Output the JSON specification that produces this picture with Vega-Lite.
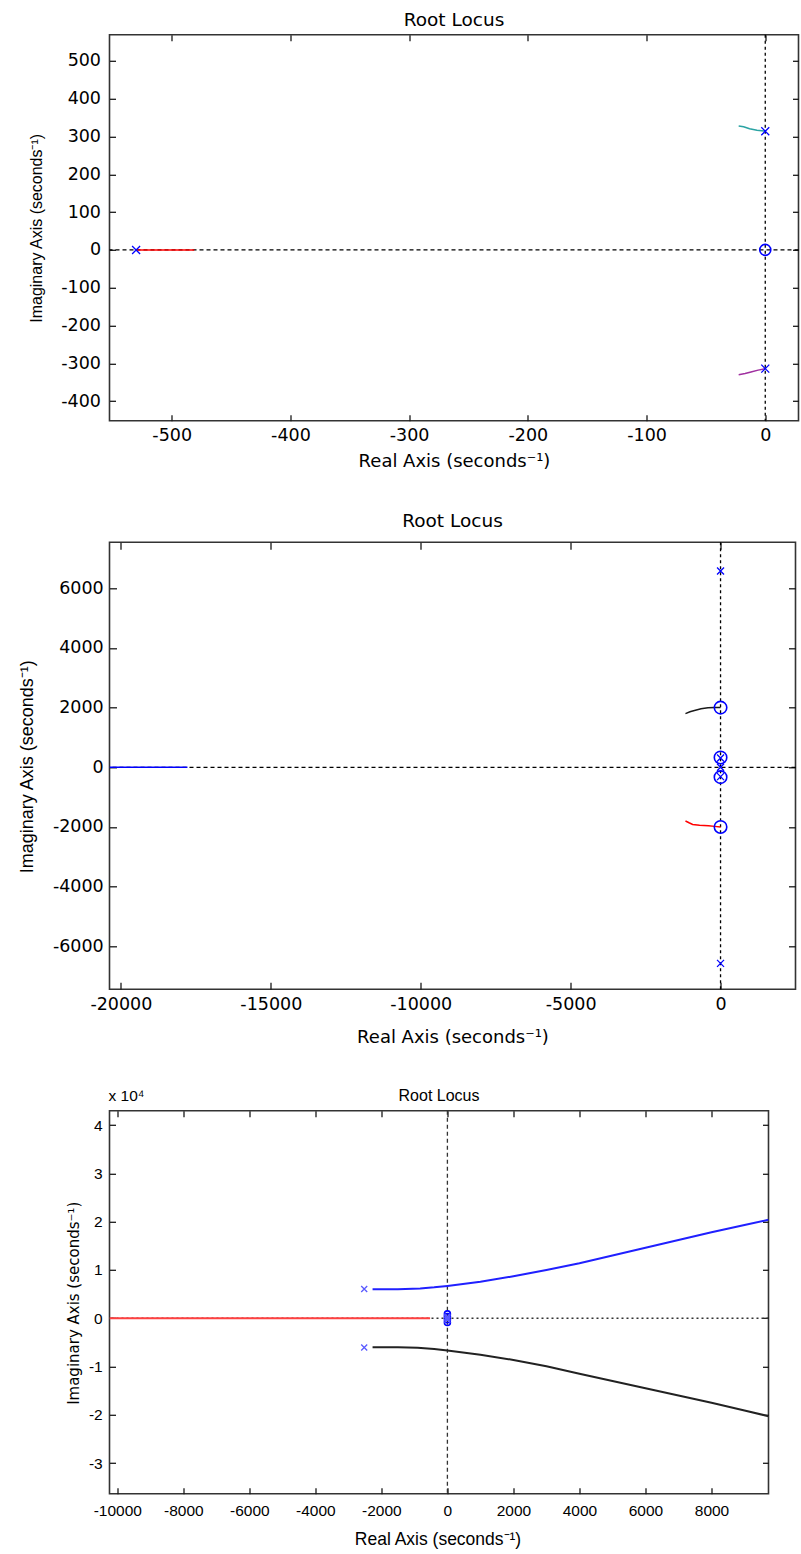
{
  "$schema": "https://vega.github.io/schema/vega-lite/v6.json",
  "background": "white",
  "padding": {"left": 17.5, "top": 9.8, "right": 3, "bottom": 3},
  "autosize": {"type": "pad"},
  "bounds": "flush",
  "spacing": 121.5,
  "resolve": {
    "scale": {"x": "independent", "y": "independent", "color": "independent"},
    "axis": {"x": "independent", "y": "independent"}
  },
  "datasets": {
    "origin": [{"v": 0}],
    "p1_lines": [
      {"branch": "a", "i": 0, "re": -530, "im": 0},
      {"branch": "a", "i": 1, "re": -481, "im": 0},
      {"branch": "b", "i": 0, "re": -22.4, "im": 328},
      {"branch": "b", "i": 1, "re": -18.2, "im": 326},
      {"branch": "b", "i": 2, "re": -13.2, "im": 320.5},
      {"branch": "b", "i": 3, "re": -7, "im": 316.5},
      {"branch": "b", "i": 4, "re": 0, "im": 314},
      {"branch": "c", "i": 0, "re": -22.4, "im": -330},
      {"branch": "c", "i": 1, "re": -17, "im": -327},
      {"branch": "c", "i": 2, "re": -12, "im": -323},
      {"branch": "c", "i": 3, "re": -6, "im": -318},
      {"branch": "c", "i": 4, "re": 0, "im": -314}
    ],
    "p1_poles": [
      {"re": -530, "im": 0},
      {"re": 0, "im": 314},
      {"re": 0, "im": -314}
    ],
    "p1_zeros": [{"re": 0, "im": 0}],
    "p2_lines": [
      {"branch": "a", "i": 0, "re": -20380, "im": 0},
      {"branch": "a", "i": 1, "re": -17780, "im": 0},
      {"branch": "b", "i": 0, "re": -1170, "im": 1800},
      {"branch": "b", "i": 1, "re": -1020, "im": 1860},
      {"branch": "b", "i": 2, "re": -870, "im": 1905},
      {"branch": "b", "i": 3, "re": -650, "im": 1960},
      {"branch": "b", "i": 4, "re": -420, "im": 1992},
      {"branch": "b", "i": 5, "re": -200, "im": 2002},
      {"branch": "b", "i": 6, "re": 0, "im": 2000},
      {"branch": "c", "i": 0, "re": -1170, "im": -1800},
      {"branch": "c", "i": 1, "re": -1050, "im": -1860},
      {"branch": "c", "i": 2, "re": -930, "im": -1915},
      {"branch": "c", "i": 3, "re": -700, "im": -1945},
      {"branch": "c", "i": 4, "re": -400, "im": -1962},
      {"branch": "c", "i": 5, "re": -200, "im": -1980},
      {"branch": "c", "i": 6, "re": 0, "im": -2000}
    ],
    "p2_poles": [
      {"re": 0, "im": 6580},
      {"re": 0, "im": -6570},
      {"re": 0, "im": 314},
      {"re": 0, "im": -314},
      {"re": 0, "im": 0}
    ],
    "p2_zeros": [
      {"re": 0, "im": 2000},
      {"re": 0, "im": -2000},
      {"re": 0, "im": 330},
      {"re": 0, "im": -330}
    ],
    "p3_lines": [
      {"branch": "a", "i": 0, "re": -10236, "im": 0},
      {"branch": "a", "i": 1, "re": -524, "im": 0},
      {"branch": "b", "i": 0, "re": -2267, "im": 6000},
      {"branch": "b", "i": 1, "re": -1500, "im": 6000},
      {"branch": "b", "i": 2, "re": -824, "im": 6150},
      {"branch": "b", "i": 3, "re": -400, "im": 6400},
      {"branch": "b", "i": 4, "re": 0, "im": 6700},
      {"branch": "b", "i": 5, "re": 1000, "im": 7550},
      {"branch": "b", "i": 6, "re": 2000, "im": 8700},
      {"branch": "b", "i": 7, "re": 3000, "im": 10000},
      {"branch": "b", "i": 8, "re": 4000, "im": 11400},
      {"branch": "b", "i": 9, "re": 5000, "im": 13000},
      {"branch": "b", "i": 10, "re": 6000, "im": 14600},
      {"branch": "b", "i": 11, "re": 7000, "im": 16200},
      {"branch": "b", "i": 12, "re": 8000, "im": 17800},
      {"branch": "b", "i": 13, "re": 9000, "im": 19300},
      {"branch": "b", "i": 14, "re": 9727, "im": 20400},
      {"branch": "c", "i": 0, "re": -2267, "im": -6000},
      {"branch": "c", "i": 1, "re": -1500, "im": -6000},
      {"branch": "c", "i": 2, "re": -900, "im": -6100},
      {"branch": "c", "i": 3, "re": -400, "im": -6400},
      {"branch": "c", "i": 4, "re": 0, "im": -6700},
      {"branch": "c", "i": 5, "re": 1000, "im": -7550},
      {"branch": "c", "i": 6, "re": 2000, "im": -8650},
      {"branch": "c", "i": 7, "re": 3000, "im": -9950},
      {"branch": "c", "i": 8, "re": 4000, "im": -11500},
      {"branch": "c", "i": 9, "re": 5000, "im": -13000},
      {"branch": "c", "i": 10, "re": 6000, "im": -14500},
      {"branch": "c", "i": 11, "re": 7000, "im": -16000},
      {"branch": "c", "i": 12, "re": 8000, "im": -17500},
      {"branch": "c", "i": 13, "re": 9000, "im": -19100},
      {"branch": "c", "i": 14, "re": 9727, "im": -20300}
    ],
    "p3_poles": [
      {"re": -2520, "im": 6050},
      {"re": -2520, "im": -6050},
      {"re": 0, "im": 314},
      {"re": 0, "im": -314},
      {"re": 0, "im": 0}
    ],
    "p3_zeros": [
      {"re": 0, "im": 330},
      {"re": 0, "im": -330},
      {"re": 0, "im": 900},
      {"re": 0, "im": -900}
    ],
    "p3_note": [{"label": "x 10⁴", "re": -10236, "im": 42980}]
  },
  "vconcat": [
    {
      "title": {"text": "Root Locus", "frame": "group", "baseline": "middle", "offset": -4, "font": "DejaVu Sans", "fontSize": 18.5, "fontWeight": "normal", "color": "#000"},
      "width": 689,
      "height": 386,
      "view": {"stroke": "#333", "strokeWidth": 1.6},
      "resolve": {"axis": {"x": "independent", "y": "independent"}},
      "layer": [
        {
          "data": {"name": "origin"},
          "mark": {"type": "rule", "strokeDash": [3, 3], "color": "#000", "strokeWidth": 1.3},
          "encoding": {
            "x": {"field": "v", "type": "quantitative", "scale": {"domain": [-552.4, 28], "nice": false, "zero": false},
              "axis": {"orient": "bottom", "values": [-500, -400, -300, -200, -100, 0], "labelExpr": "'' + datum.value", "tickSize": -6, "labelPadding": 21, "labelBaseline": "middle", "labelFont": "DejaVu Sans", "labelFontSize": 17.5, "title": "Real Axis (seconds⁻¹)", "titleFont": "DejaVu Sans", "titleFontSize": 18, "titleX": 344.5, "titleY": 41, "titleBaseline": "middle", "titleAlign": "center"}}
          }
        },
        {
          "data": {"name": "origin"},
          "mark": {"type": "rule", "strokeDash": [4, 3], "color": "#000", "strokeWidth": 1.3},
          "encoding": {
            "y": {"field": "v", "type": "quantitative", "scale": {"domain": [-452, 569], "nice": false, "zero": false},
              "axis": {"orient": "left", "values": [-400, -300, -200, -100, 0, 100, 200, 300, 400, 500], "labelExpr": "'' + datum.value", "tickSize": -6, "labelPadding": 15, "labelBaseline": "middle", "labelFont": "DejaVu Sans", "labelFontSize": 17.5, "title": "Imaginary Axis (seconds⁻¹)", "titleFont": "Liberation Sans", "titleFontSize": 16, "titleX": -73, "titleY": 193, "titleAngle": -90, "titleBaseline": "middle", "titleAlign": "center"}}
          }
        },
        {
          "data": {"name": "p1_lines"},
          "mark": {"type": "line", "strokeWidth": 1.5, "clip": true},
          "encoding": {
            "x": {"field": "re", "type": "quantitative", "scale": {"domain": [-552.4, 28], "nice": false, "zero": false},
              "axis": {"orient": "top", "values": [-500, -400, -300, -200, -100, 0], "tickSize": -6, "labels": false, "title": null}},
            "y": {"field": "im", "type": "quantitative", "scale": {"domain": [-452, 569], "nice": false, "zero": false},
              "axis": {"orient": "right", "values": [-400, -300, -200, -100, 0, 100, 200, 300, 400, 500], "tickSize": -6, "labels": false, "title": null}},
            "color": {"field": "branch", "type": "nominal", "scale": {"domain": ["a", "b", "c"], "range": ["#ff0000", "#2aa3a3", "#a030a0"]}, "legend": null},
            "order": {"field": "i", "type": "quantitative"}
          }
        },
        {
          "data": {"name": "p1_zeros"},
          "mark": {"type": "point", "shape": "circle", "filled": false, "color": "#0000ff", "size": 121, "strokeWidth": 1.6, "opacity": 1},
          "encoding": {
            "x": {"field": "re", "type": "quantitative", "scale": {"domain": [-552.4, 28], "nice": false, "zero": false}, "axis": null},
            "y": {"field": "im", "type": "quantitative", "scale": {"domain": [-452, 569], "nice": false, "zero": false}, "axis": null}
          }
        },
        {
          "data": {"name": "p1_poles"},
          "mark": {"type": "point", "shape": "M-1,-1L1,1M-1,1L1,-1", "filled": false, "color": "#0000ff", "size": 64, "strokeWidth": 1.3, "opacity": 1},
          "encoding": {
            "x": {"field": "re", "type": "quantitative", "scale": {"domain": [-552.4, 28], "nice": false, "zero": false}, "axis": null},
            "y": {"field": "im", "type": "quantitative", "scale": {"domain": [-452, 569], "nice": false, "zero": false}, "axis": null}
          }
        }
      ]
    },
    {
      "title": {"text": "Root Locus", "frame": "group", "baseline": "middle", "offset": 2.2, "font": "DejaVu Sans", "fontSize": 18.5, "fontWeight": "normal", "color": "#000"},
      "width": 686,
      "height": 447,
      "view": {"stroke": "#333", "strokeWidth": 1.6},
      "resolve": {"axis": {"x": "independent", "y": "independent"}},
      "layer": [
        {
          "data": {"name": "origin"},
          "mark": {"type": "rule", "strokeDash": [3, 3], "color": "#000", "strokeWidth": 1.3},
          "encoding": {
            "x": {"field": "v", "type": "quantitative", "scale": {"domain": [-20380, 2500], "nice": false, "zero": false},
              "axis": {"orient": "bottom", "values": [-20000, -15000, -10000, -5000, 0], "labelExpr": "'' + datum.value", "tickSize": -7, "labelPadding": 22.4, "labelBaseline": "middle", "labelFont": "DejaVu Sans", "labelFontSize": 17.5, "title": "Real Axis (seconds⁻¹)", "titleFont": "DejaVu Sans", "titleFontSize": 18, "titleX": 343, "titleY": 48, "titleBaseline": "middle", "titleAlign": "center"}}
          }
        },
        {
          "data": {"name": "origin"},
          "mark": {"type": "rule", "strokeDash": [4, 3], "color": "#000", "strokeWidth": 1.3},
          "encoding": {
            "y": {"field": "v", "type": "quantitative", "scale": {"domain": [-7440, 7540], "nice": false, "zero": false},
              "axis": {"orient": "left", "values": [-6000, -4000, -2000, 0, 2000, 4000, 6000], "labelExpr": "'' + datum.value", "tickSize": -7, "labelPadding": 13.3, "labelBaseline": "middle", "labelFont": "DejaVu Sans", "labelFontSize": 17.5, "title": "Imaginary Axis (seconds⁻¹)", "titleFont": "Liberation Sans", "titleFontSize": 18, "titleX": -82, "titleY": 224, "titleAngle": -90, "titleBaseline": "middle", "titleAlign": "center"}}
          }
        },
        {
          "data": {"name": "p2_lines"},
          "mark": {"type": "line", "strokeWidth": 1.5, "clip": true},
          "encoding": {
            "x": {"field": "re", "type": "quantitative", "scale": {"domain": [-20380, 2500], "nice": false, "zero": false},
              "axis": {"orient": "top", "values": [-20000, -15000, -10000, -5000, 0], "tickSize": -7, "labels": false, "title": null}},
            "y": {"field": "im", "type": "quantitative", "scale": {"domain": [-7440, 7540], "nice": false, "zero": false},
              "axis": {"orient": "right", "values": [-6000, -4000, -2000, 0, 2000, 4000, 6000], "tickSize": -7, "labels": false, "title": null}},
            "color": {"field": "branch", "type": "nominal", "scale": {"domain": ["a", "b", "c"], "range": ["#0000ff", "#1a1a1a", "#ff0000"]}, "legend": null},
            "order": {"field": "i", "type": "quantitative"}
          }
        },
        {
          "data": {"name": "p2_zeros"},
          "mark": {"type": "point", "shape": "circle", "filled": false, "color": "#0000ff", "size": 156, "strokeWidth": 1.6, "opacity": 1},
          "encoding": {
            "x": {"field": "re", "type": "quantitative", "scale": {"domain": [-20380, 2500], "nice": false, "zero": false}, "axis": null},
            "y": {"field": "im", "type": "quantitative", "scale": {"domain": [-7440, 7540], "nice": false, "zero": false}, "axis": null}
          }
        },
        {
          "data": {"name": "p2_poles"},
          "mark": {"type": "point", "shape": "M-1,-1L1,1M-1,1L1,-1", "filled": false, "color": "#0000ff", "size": 49, "strokeWidth": 1.3, "opacity": 1},
          "encoding": {
            "x": {"field": "re", "type": "quantitative", "scale": {"domain": [-20380, 2500], "nice": false, "zero": false}, "axis": null},
            "y": {"field": "im", "type": "quantitative", "scale": {"domain": [-7440, 7540], "nice": false, "zero": false}, "axis": null}
          }
        }
      ]
    },
    {
      "title": {"text": "Root Locus", "frame": "group", "baseline": "middle", "offset": -23.2, "font": "Liberation Sans Narrow, Arial Narrow, sans-serif", "fontSize": 16, "fontWeight": "normal", "color": "#000"},
      "width": 659,
      "height": 383,
      "view": {"stroke": "#333", "strokeWidth": 1.6},
      "resolve": {"axis": {"x": "independent", "y": "independent"}},
      "layer": [
        {
          "data": {"name": "origin"},
          "mark": {"type": "rule", "strokeDash": [4, 3], "color": "#333", "strokeWidth": 1.3},
          "encoding": {
            "x": {"field": "v", "type": "quantitative", "scale": {"domain": [-10236, 9727], "nice": false, "zero": false},
              "axis": {"orient": "bottom", "values": [-10000, -8000, -6000, -4000, -2000, 0, 2000, 4000, 6000, 8000], "labelExpr": "'' + datum.value", "tickSize": -6, "labelPadding": 23, "labelBaseline": "middle", "labelFont": "Liberation Sans Narrow, Arial Narrow, sans-serif", "labelFontSize": 15.5, "title": "Real Axis (seconds⁻¹)", "titleFont": "Liberation Sans Narrow, Arial Narrow, sans-serif", "titleFontSize": 17.5, "titleX": 328, "titleY": 46, "titleBaseline": "middle", "titleAlign": "center"}}
          }
        },
        {
          "data": {"name": "origin"},
          "mark": {"type": "rule", "strokeDash": [2, 3], "color": "#333", "strokeWidth": 1.4},
          "encoding": {
            "y": {"field": "v", "type": "quantitative", "scale": {"domain": [-36380, 42980], "nice": false, "zero": false},
              "axis": {"orient": "left", "values": [-30000, -20000, -10000, 0, 10000, 20000, 30000, 40000], "labelExpr": "'' + (datum.value / 10000)", "tickSize": -6, "labelPadding": 13.3, "labelBaseline": "middle", "labelFont": "Liberation Sans Narrow, Arial Narrow, sans-serif", "labelFontSize": 15.5, "title": "Imaginary Axis (seconds⁻¹)", "titleFont": "DejaVu Sans", "titleFontSize": 15, "titleX": -36, "titleY": 192, "titleAngle": -90, "titleBaseline": "middle", "titleAlign": "center"}}
          }
        },
        {
          "data": {"name": "p3_lines"},
          "mark": {"type": "line", "strokeWidth": 2, "clip": true},
          "encoding": {
            "x": {"field": "re", "type": "quantitative", "scale": {"domain": [-10236, 9727], "nice": false, "zero": false},
              "axis": {"orient": "top", "values": [-10000, -8000, -6000, -4000, -2000, 0, 2000, 4000, 6000, 8000], "tickSize": -6, "labels": false, "title": null}},
            "y": {"field": "im", "type": "quantitative", "scale": {"domain": [-36380, 42980], "nice": false, "zero": false},
              "axis": {"orient": "right", "values": [-30000, -20000, -10000, 0, 10000, 20000, 30000, 40000], "tickSize": -6, "labels": false, "title": null}},
            "color": {"field": "branch", "type": "nominal", "scale": {"domain": ["a", "b", "c"], "range": ["#ff4040", "#2020ff", "#222222"]}, "legend": null},
            "order": {"field": "i", "type": "quantitative"}
          }
        },
        {
          "data": {"name": "p3_zeros"},
          "mark": {"type": "point", "shape": "circle", "filled": false, "color": "#0000ff", "size": 36, "strokeWidth": 1.6, "opacity": 1},
          "encoding": {
            "x": {"field": "re", "type": "quantitative", "scale": {"domain": [-10236, 9727], "nice": false, "zero": false}, "axis": null},
            "y": {"field": "im", "type": "quantitative", "scale": {"domain": [-36380, 42980], "nice": false, "zero": false}, "axis": null}
          }
        },
        {
          "data": {"name": "p3_poles"},
          "mark": {"type": "point", "shape": "M-1,-1L1,1M-1,1L1,-1", "filled": false, "color": "#5a5aff", "size": 36, "strokeWidth": 1.3, "opacity": 1},
          "encoding": {
            "x": {"field": "re", "type": "quantitative", "scale": {"domain": [-10236, 9727], "nice": false, "zero": false}, "axis": null},
            "y": {"field": "im", "type": "quantitative", "scale": {"domain": [-36380, 42980], "nice": false, "zero": false}, "axis": null}
          }
        },
        {
          "data": {"name": "p3_note"},
          "mark": {"type": "text", "align": "left", "baseline": "middle", "dy": -15, "dx": -1, "font": "Liberation Sans Narrow, Arial Narrow, sans-serif", "fontSize": 15.5, "color": "#000", "clip": false},
          "encoding": {
            "x": {"field": "re", "type": "quantitative", "scale": {"domain": [-10236, 9727], "nice": false, "zero": false}, "axis": null},
            "y": {"field": "im", "type": "quantitative", "scale": {"domain": [-36380, 42980], "nice": false, "zero": false}, "axis": null},
            "text": {"field": "label"}
          }
        }
      ]
    }
  ],
  "config": {
    "view": {"stroke": "#333", "strokeWidth": 1.6},
    "axis": {"grid": false, "domain": false, "minExtent": 0, "tickColor": "#1a1a1a", "tickWidth": 1.3, "labelColor": "#000", "titleColor": "#000", "titleFontWeight": "normal", "labelFlush": false, "labelOverlap": false, "labelBound": false},
    "axisX": {"minExtent": 0},
    "axisY": {"minExtent": 0}
  }
}
